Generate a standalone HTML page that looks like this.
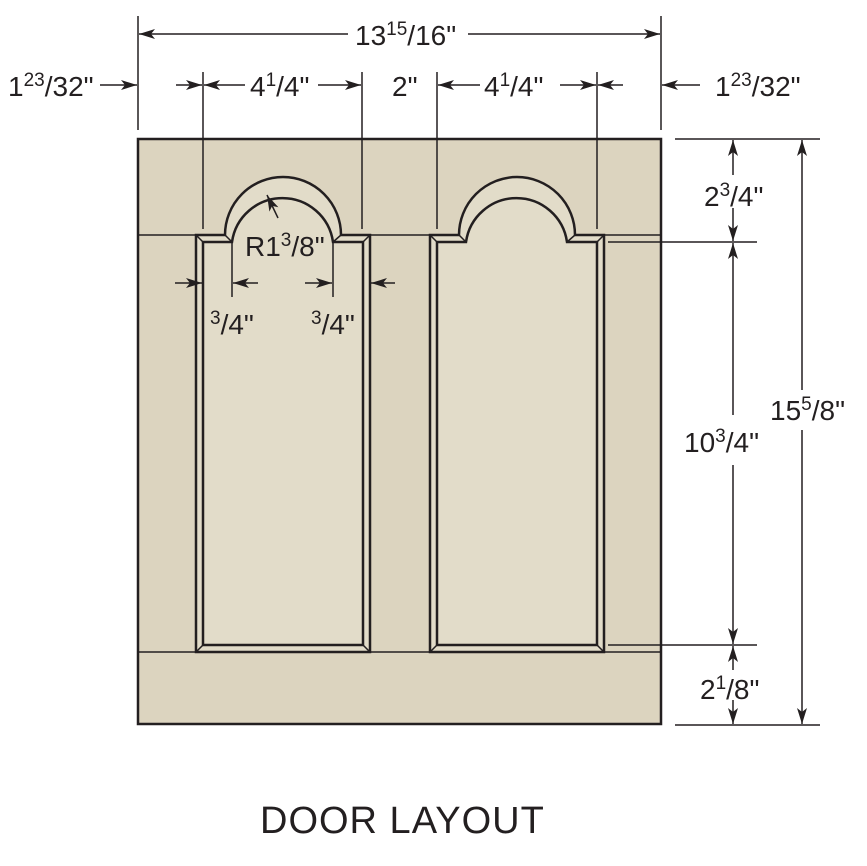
<!DOCTYPE html>
<html><head><meta charset="utf-8"><style>
html,body{margin:0;padding:0;background:#fff}
svg{display:block}
text{font-family:"Liberation Sans",sans-serif;fill:#231f20}
</style></head><body>
<svg width="867" height="866" viewBox="0 0 867 866" xmlns="http://www.w3.org/2000/svg">
<defs>
<marker id="a" viewBox="0 0 16 10" refX="16" refY="5" markerWidth="16" markerHeight="10" markerUnits="userSpaceOnUse" orient="auto"><path d="M0,0 L16,5 L0,10 L4,5 Z" fill="#231f20"/></marker>
</defs>
<g stroke="#231f20" fill="none">
<rect x="138" y="139" width="523" height="585" fill="#dcd4bf" stroke-width="2.5"/>
<line x1="138" y1="235" x2="661" y2="235" stroke-width="1.5"/>
<line x1="138" y1="652" x2="661" y2="652" stroke-width="1.5"/>
<path d="M196,235 L225,235 A58,58 0 0 1 341,235 L370,235 L370,652 L196,652 Z" fill="#e2dcc9" stroke-width="2.5"/>
<path d="M203,242 L232,242 A51,51 0 0 1 333,242 L363,242 L363,645 L203,645 Z" stroke-width="2.5"/>
<path d="M196,235 L203,242 M225,235 L232,242 M341,235 L333,242 M370,235 L363,242 M196,652 L203,645 M370,652 L363,645" stroke-width="1.5"/>
<path d="M430,235 L459,235 A58,58 0 0 1 575,235 L604,235 L604,652 L430,652 Z" fill="#e2dcc9" stroke-width="2.5"/>
<path d="M437,242 L466,242 A51,51 0 0 1 567,242 L597,242 L597,645 L437,645 Z" stroke-width="2.5"/>
<path d="M430,235 L437,242 M459,235 L466,242 M575,235 L567,242 M604,235 L597,242 M430,652 L437,645 M604,652 L597,645" stroke-width="1.5"/>
<g stroke-width="1.5">
<line x1="138" y1="16" x2="138" y2="130"/>
<line x1="661" y1="16" x2="661" y2="130"/>
<line x1="203" y1="72" x2="203" y2="229"/>
<line x1="362" y1="72" x2="362" y2="229"/>
<line x1="437" y1="72" x2="437" y2="229"/>
<line x1="597" y1="72" x2="597" y2="229"/>
<line x1="675" y1="139" x2="820" y2="139"/>
<line x1="608" y1="242" x2="757" y2="242"/>
<line x1="608" y1="645" x2="757" y2="645"/>
<line x1="675" y1="725" x2="820" y2="725"/>
<line x1="232" y1="242" x2="232" y2="297"/>
<line x1="333" y1="242" x2="333" y2="297"/>
<line x1="348" y1="34" x2="139" y2="34" marker-end="url(#a)"/>
<line x1="468" y1="34" x2="660" y2="34" marker-end="url(#a)"/>
<line x1="100" y1="85" x2="137" y2="85" marker-end="url(#a)"/>
<line x1="700" y1="85" x2="662" y2="85" marker-end="url(#a)"/>
<line x1="176" y1="85" x2="202" y2="85" marker-end="url(#a)"/>
<line x1="245" y1="85" x2="204" y2="85" marker-end="url(#a)"/>
<line x1="318" y1="85" x2="361" y2="85" marker-end="url(#a)"/>
<line x1="480" y1="85" x2="438" y2="85" marker-end="url(#a)"/>
<line x1="560" y1="85" x2="596" y2="85" marker-end="url(#a)"/>
<line x1="623" y1="85" x2="598" y2="85" marker-end="url(#a)"/>
<line x1="175" y1="283" x2="202" y2="283" marker-end="url(#a)"/>
<line x1="258" y1="283" x2="233" y2="283" marker-end="url(#a)"/>
<line x1="305" y1="283" x2="332" y2="283" marker-end="url(#a)"/>
<line x1="395" y1="283" x2="371" y2="283" marker-end="url(#a)"/>
<line x1="278" y1="218" x2="267" y2="195" marker-end="url(#a)"/>
<line x1="733" y1="175" x2="733" y2="140" marker-end="url(#a)"/>
<line x1="733" y1="208" x2="733" y2="241" marker-end="url(#a)"/>
<line x1="733" y1="415" x2="733" y2="243" marker-end="url(#a)"/>
<line x1="733" y1="465" x2="733" y2="644" marker-end="url(#a)"/>
<line x1="733" y1="670" x2="733" y2="646" marker-end="url(#a)"/>
<line x1="733" y1="700" x2="733" y2="724" marker-end="url(#a)"/>
<line x1="802" y1="390" x2="802" y2="140" marker-end="url(#a)"/>
<line x1="802" y1="430" x2="802" y2="724" marker-end="url(#a)"/>
</g>
</g>
<g font-size="28">
<text x="355" y="45">13<tspan font-size="19" dy="-10">15</tspan><tspan dy="10">/16"</tspan></text>
<text x="8" y="96">1<tspan font-size="19" dy="-10">23</tspan><tspan dy="10">/32"</tspan></text>
<text x="715" y="96">1<tspan font-size="19" dy="-10">23</tspan><tspan dy="10">/32"</tspan></text>
<text x="250" y="96">4<tspan font-size="19" dy="-10">1</tspan><tspan dy="10">/4"</tspan></text>
<text x="484" y="96">4<tspan font-size="19" dy="-10">1</tspan><tspan dy="10">/4"</tspan></text>
<text x="392" y="96">2"</text>
<text x="245" y="256">R1<tspan font-size="19" dy="-10">3</tspan><tspan dy="10">/8"</tspan></text>
<text x="210" y="334"><tspan font-size="19" dy="-10">3</tspan><tspan dy="10">/4"</tspan></text>
<text x="311" y="334"><tspan font-size="19" dy="-10">3</tspan><tspan dy="10">/4"</tspan></text>
<text x="704" y="206">2<tspan font-size="19" dy="-10">3</tspan><tspan dy="10">/4"</tspan></text>
<text x="684" y="452">10<tspan font-size="19" dy="-10">3</tspan><tspan dy="10">/4"</tspan></text>
<text x="770" y="420">15<tspan font-size="19" dy="-10">5</tspan><tspan dy="10">/8"</tspan></text>
<text x="700" y="699">2<tspan font-size="19" dy="-10">1</tspan><tspan dy="10">/8"</tspan></text>
<text x="260" y="833" font-size="38" letter-spacing="1">DOOR LAYOUT</text>
</g>
</svg>
</body></html>
